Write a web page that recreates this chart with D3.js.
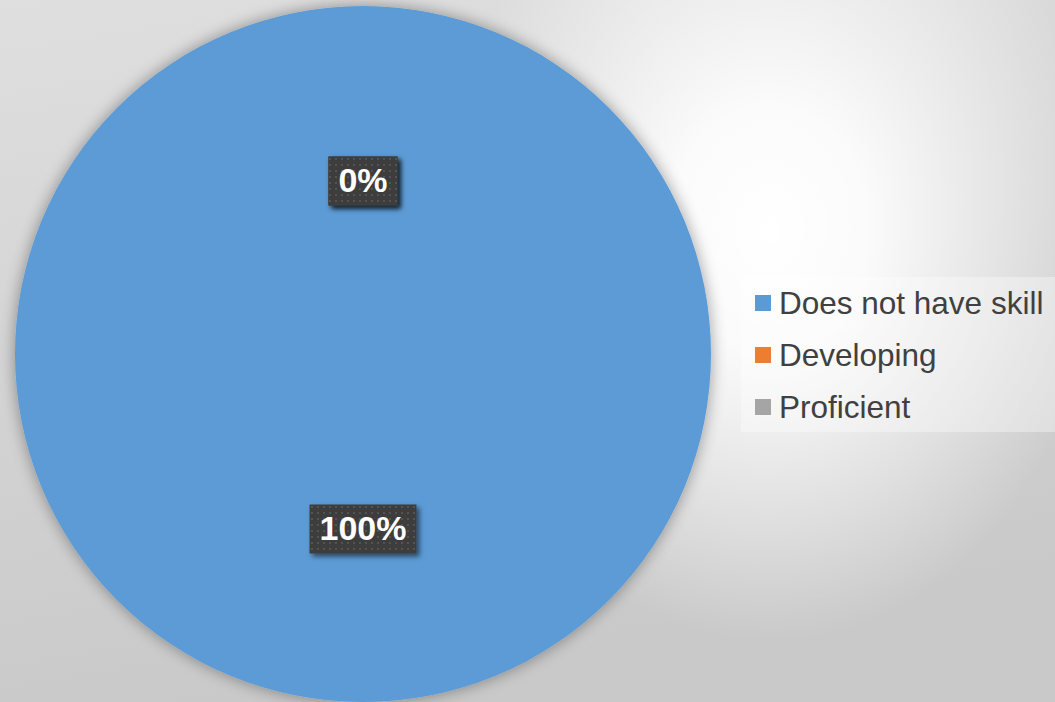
<!DOCTYPE html>
<html>
<head>
<meta charset="utf-8">
<script src="https://cdn.jsdelivr.net/npm/d3@7"></script>
<style>
  html, body { margin: 0; padding: 0; overflow: hidden; }
  svg { display: block; }
</style>
</head>
<body>
<div id="chart"></div>
<script>
const categories = ['Does not have skill', 'Developing', 'Proficient']
const values = [100, 0, 0]
const colors = ['#5B9BD5', '#ED7D31', '#A5A5A5']

const W = 1055
const H = 702
const cx = 363
const cy = 354
const radius = 348

const svg = d3.select('#chart').append('svg')
  .attr('width', W)
  .attr('height', H)

const defs = svg.append('defs')

// fond : dégradé vertical + tache claire à droite du camembert
const base = defs.append('linearGradient')
  .attr('id', 'bgBase')
  .attr('x1', 0).attr('y1', 0).attr('x2', 0.25).attr('y2', 1)
base.append('stop').attr('offset', 0).attr('stop-color', '#dfdfdf')
base.append('stop').attr('offset', 1).attr('stop-color', '#c9c9c9')

const glow = defs.append('radialGradient')
  .attr('id', 'bgGlow')
  .attr('gradientUnits', 'userSpaceOnUse')
  .attr('cx', 770).attr('cy', 230).attr('r', 330)
  .attr('gradientTransform', 'translate(770,230) scale(1,1.25) translate(-770,-230)')
glow.append('stop').attr('offset', 0).attr('stop-color', '#ffffff').attr('stop-opacity', 1)
glow.append('stop').attr('offset', 0.3).attr('stop-color', '#ffffff').attr('stop-opacity', 0.9)
glow.append('stop').attr('offset', 1).attr('stop-color', '#ffffff').attr('stop-opacity', 0)

// ombre douce autour du camembert
const pieShadow = defs.append('filter')
  .attr('id', 'pieShadow')
  .attr('x', '-20%').attr('y', '-20%').attr('width', '140%').attr('height', '140%')
pieShadow.append('feGaussianBlur').attr('in', 'SourceAlpha').attr('stdDeviation', 8).attr('result', 'blur')
pieShadow.append('feComponentTransfer').attr('in', 'blur').attr('result', 'soft')
  .append('feFuncA').attr('type', 'linear').attr('slope', 0.38)
const pm = pieShadow.append('feMerge')
pm.append('feMergeNode').attr('in', 'soft')
pm.append('feMergeNode').attr('in', 'SourceGraphic')

// ombre des étiquettes
const labelShadow = defs.append('filter')
  .attr('id', 'labelShadow')
  .attr('x', '-20%').attr('y', '-30%').attr('width', '150%').attr('height', '170%')
labelShadow.append('feDropShadow')
  .attr('dx', 3).attr('dy', 3).attr('stdDeviation', 2.5)
  .attr('flood-color', '#000').attr('flood-opacity', 0.55)

// motif pointillé des étiquettes
const dots = defs.append('pattern')
  .attr('id', 'dots')
  .attr('patternUnits', 'userSpaceOnUse')
  .attr('width', 6).attr('height', 6)
dots.append('rect').attr('width', 6).attr('height', 6).attr('fill', '#3e3e3e')
dots.append('rect').attr('x', 2).attr('y', 2).attr('width', 2).attr('height', 2).attr('fill', '#525252')

svg.append('rect').attr('width', W).attr('height', H).attr('fill', 'url(#bgBase)')
svg.append('rect').attr('width', W).attr('height', H).attr('fill', 'url(#bgGlow)')

const pie = d3.pie().sort(null).value((d) => d)
const arcs = pie(values)

const arc = d3.arc().innerRadius(0).outerRadius(radius)
const labelArc = d3.arc().innerRadius(radius * 0.5).outerRadius(radius * 0.5)

const g = svg.append('g').attr('transform', `translate(${cx},${cy})`)

g.selectAll('path.slice')
  .data(arcs)
  .enter()
  .append('path')
  .attr('class', 'slice')
  .attr('d', arc)
  .attr('fill', (d, i) => colors[i])
  .attr('filter', 'url(#pieShadow)')

// étiquettes de pourcentage
const total = d3.sum(values)
const labels = g.selectAll('g.label')
  .data(arcs)
  .enter()
  .append('g')
  .attr('class', 'label')
  .attr('transform', (d) => `translate(${labelArc.centroid(d)})`)

labels.each(function (d) {
  const lg = d3.select(this)
  const box = lg.append('rect').attr('fill', 'url(#dots)').attr('filter', 'url(#labelShadow)')
  const txt = lg.append('text')
    .attr('text-anchor', 'middle')
    .attr('dy', '0.36em')
    .style('font-family', '"Liberation Sans", Arial, sans-serif')
    .style('font-size', '34px')
    .style('font-weight', 'bold')
    .style('fill', '#ffffff')
    .text(`${Math.round((d.data / total) * 100)}%`)
  const len = txt.node().getComputedTextLength()
  const padX = 10
  const h = 49
  box.attr('x', -len / 2 - padX).attr('y', -h / 2 + 1)
    .attr('width', len + padX * 2).attr('height', h)
})

// légende
const legend = svg.append('g').attr('class', 'legend')
legend.append('rect')
  .attr('x', 741).attr('y', 277)
  .attr('width', W - 741).attr('height', 155)
  .attr('fill', '#ffffff').attr('fill-opacity', 0.35)

const items = legend.selectAll('g.item')
  .data(categories)
  .enter()
  .append('g')
  .attr('class', 'item')
  .attr('transform', (d, i) => `translate(755, ${303 + i * 52})`)

items.append('rect')
  .attr('x', 0).attr('y', -8)
  .attr('width', 16).attr('height', 16)
  .attr('fill', (d, i) => colors[i])

items.append('text')
  .attr('x', 24)
  .attr('dy', '0.35em')
  .style('font-family', '"Liberation Sans", Arial, sans-serif')
  .style('font-size', '31.5px')
  .style('fill', '#404040')
  .text((d) => d)
</script>
</body>
</html>
